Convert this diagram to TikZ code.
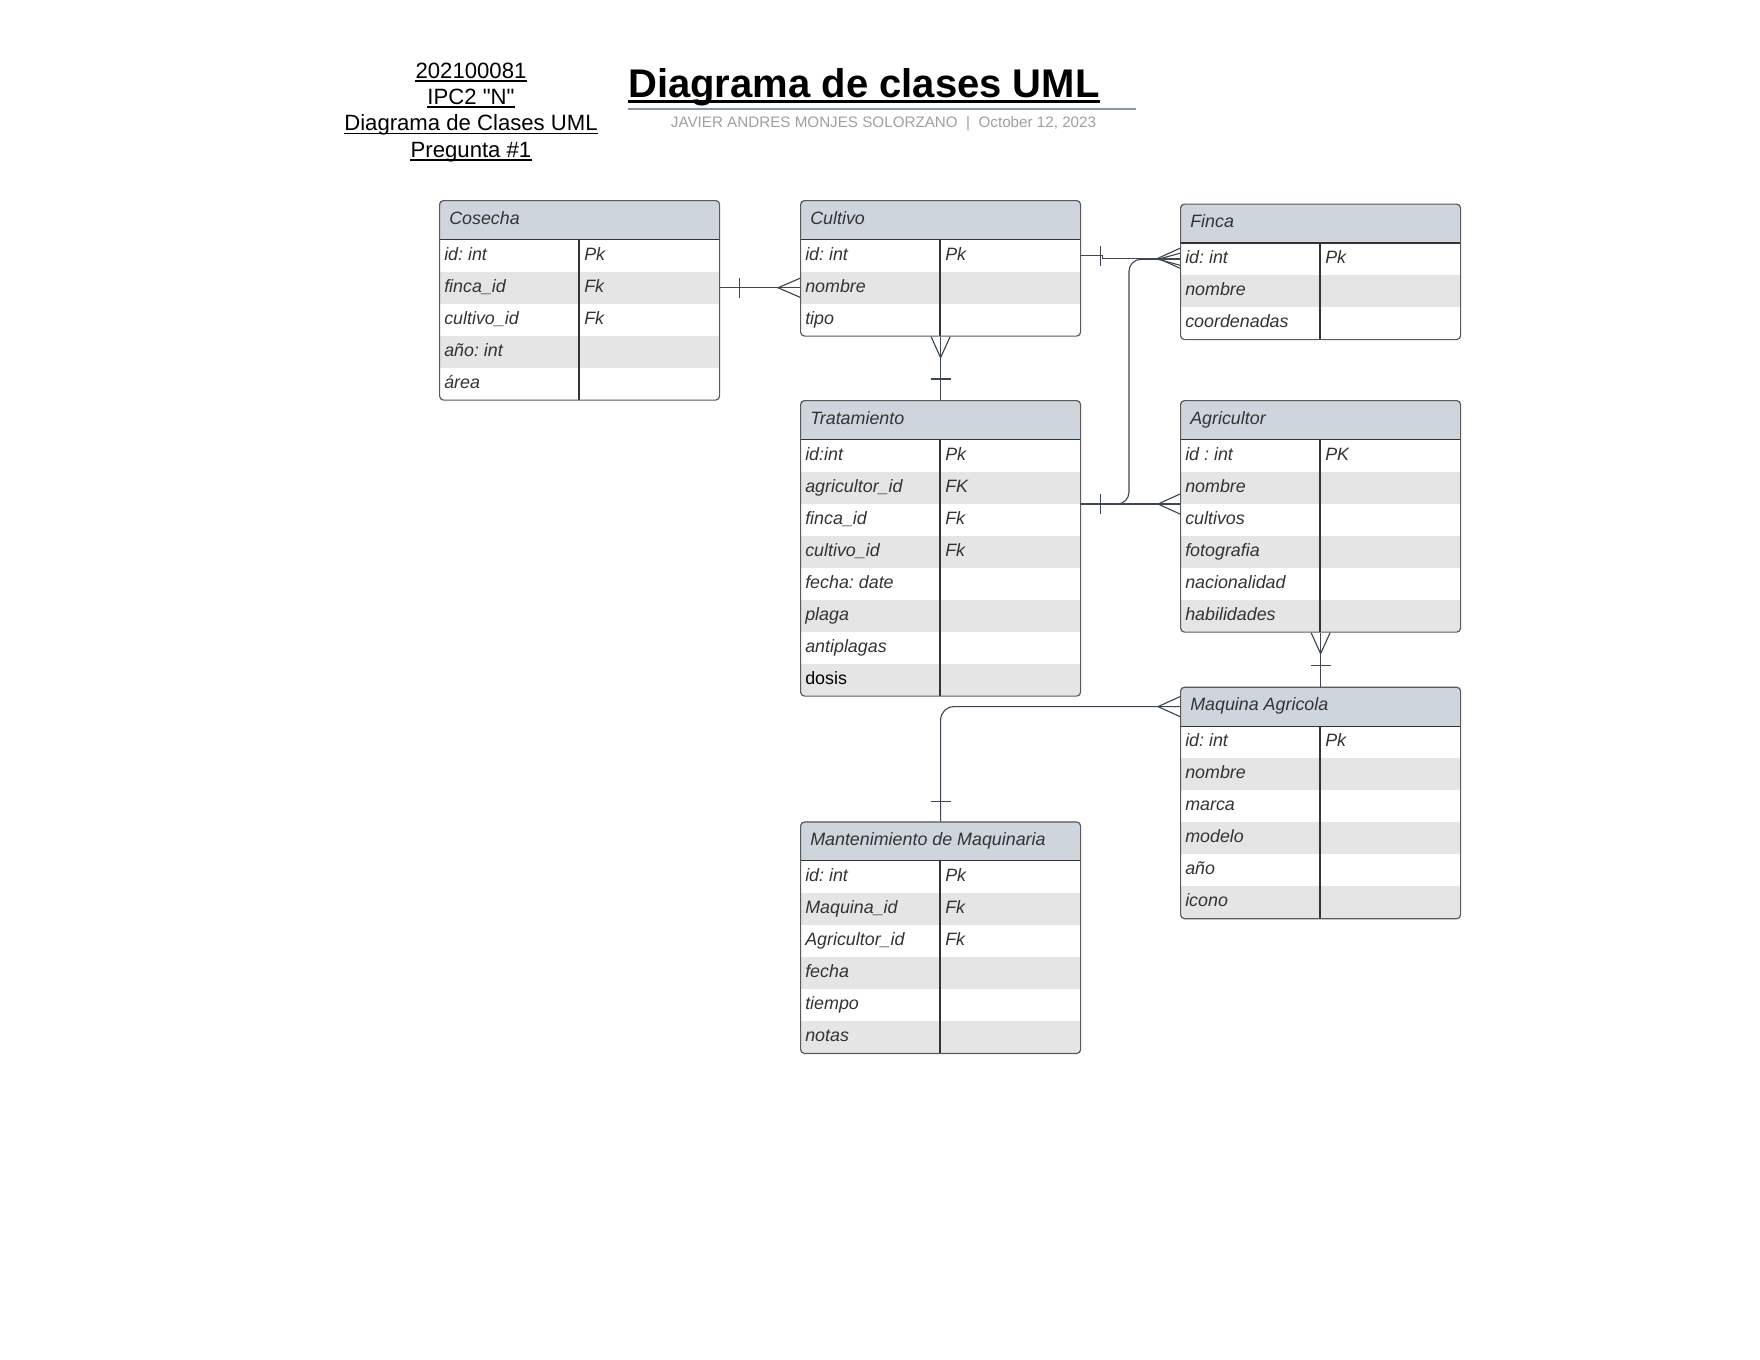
\documentclass[tikz,border=0pt]{standalone}
\usepackage{fontspec}
\setmainfont{Liberation Sans}
\usetikzlibrary{calc}
\definecolor{hdrfill}{HTML}{CFD5DD}
\definecolor{rowgray}{HTML}{E5E5E5}
\definecolor{boxline}{HTML}{5A5A5A}
\definecolor{conncol}{HTML}{3F4651}
\definecolor{txtcol}{HTML}{333333}
\definecolor{subgray}{HTML}{A0A0A0}
\definecolor{rulegray}{HTML}{8C96A8}
\newcommand\strq{\XeTeXglyph\XeTeXglyphindex "quotedbl"\relax}
\frenchspacing
\tikzset{
  boxborder/.style={draw=boxline, line width=0.9pt, rounded corners=3pt, inner sep=0pt, minimum width=210pt},
  innerline/.style={draw=txtcol, line width=0.8pt},
  cellbox/.style={inner sep=0pt, minimum width=210pt, minimum height=24pt},
  hdrbox/.style={inner sep=0pt, minimum width=210pt, minimum height=29.625pt},
  celltext/.style={inner sep=0pt, anchor=base west, text=txtcol, font=\fontsize{13.4pt}{15pt}\selectfont\itshape},
  hdrtext/.style={inner sep=0pt, anchor=base west, text=txtcol, font=\fontsize{13.4pt}{15pt}\selectfont\itshape},
  conn/.style={draw=conncol, line width=0.85pt},
  headline/.style={inner sep=0pt, anchor=base, font=\fontsize{16.6pt}{20pt}\selectfont},
}
% #1 name, #2 x, #3 y, #4 title, #5 rows, #6 list
\newcommand\umltable[6]{%
  \begin{scope}
    \path[clip, rounded corners=3pt] (#2,#3) rectangle ++(280,{39.5+32*#5});
    \fill[hdrfill] (#2,#3) rectangle ++(280,39.5);
    \foreach \lt/\rt [count=\i] in {#6} {
      \pgfmathsetmacro\yy{#3+39.5+32*(\i-1)}
      \ifodd\i\relax\else\fill[rowgray] (#2,\yy) rectangle ++(280,32);\fi
    }
  \end{scope}
  \node[hdrbox, anchor=north west] (#1-h) at (#2,#3) {};
  \node[hdrtext] (#1-t) at ({#2+10},{#3+19.75+4.5}) {#4};
  \foreach \lt/\rt [count=\i] in {#6} {
    \pgfmathsetmacro\yy{#3+39.5+32*(\i-1)}
    \node[cellbox, anchor=north west] (#1-r\i) at (#2,\yy) {};
    \node[celltext] (#1-a\i) at ({#2+5},{\yy+16+4.5}) {\lt};
    \node[celltext] (#1-b\i) at ({#2+145},{\yy+16+4.5}) {\rt};
  }
  \draw[innerline] (#2,{#3+39.5}) -- ++(280,0);
  \draw[innerline] ({#2+140},{#3+39.5}) -- ({#2+140},{#3+39.5+32*#5});
  \node[boxborder, anchor=north west, minimum height={29.625pt+24pt*#5}] (#1) at (#2,#3) {};
}
\begin{document}
\begin{tikzpicture}[x=0.75pt,y=-0.75pt]
\fill[white] (0,0) rectangle (1760,1360);
\useasboundingbox (0,0) rectangle (1760,1360);

% heading block
\node[headline] (h1) at (471,78) {202100081};
\node[headline] (h2) at (471,104) {IPC2 \strq N\strq};
\node[headline] (h3) at (471,130.5) {Diagrama de Clases UML};
\node[headline] (h4) at (471,157) {Pregunta \#1};
\foreach \n in {h1,h2,h3,h4}{
  \draw[line width=0.8pt] ($(\n.base west)+(0,3)$) -- ($(\n.base east)+(0,3)$);
}
\node[inner sep=0pt, anchor=base west, font=\fontsize{30pt}{36pt}\selectfont\bfseries] (title) at (628,97) {Diagrama de clases UML};
\draw[line width=1.7pt] ($(title.base west)+(0,4.5)$) -- ($(title.base east)+(0,4.5)$);
\draw[rulegray, line width=1pt] ($(title.base west)+(0,12)$) -- ($(title.base west)+(508,12)$);
\node[inner sep=0pt, anchor=base, text=subgray, font=\fontsize{11.4pt}{13pt}\selectfont] (sub) at (883.5,127.5) {JAVIER ANDRES MONJES SOLORZANO\ \ |\ \ October 12, 2023};

% tables
\umltable{cos}{439}{200}{Cosecha}{5}{id: int/Pk, finca\_id/Fk, cultivo\_id/Fk, año: int/{}, área/{}}
\umltable{cul}{800}{200}{Cultivo}{3}{id: int/Pk, nombre/{}, tipo/{}}
\umltable{fin}{1180}{203.5}{Finca}{3}{id: int/Pk, nombre/{}, coordenadas/{}}
\umltable{tra}{800}{400}{Tratamiento}{8}{id:int/Pk, agricultor\_id/FK, finca\_id/Fk, cultivo\_id/Fk, fecha: date/{}, plaga/{}, antiplagas/{}, {\upshape\color{black}dosis}/{}}
\umltable{agr}{1180}{400}{Agricultor}{6}{id : int/PK, nombre/{}, cultivos/{}, fotografia/{}, nacionalidad/{}, habilidades/{}}
\umltable{maq}{1180}{686.6}{Maquina Agricola}{6}{id: int/Pk, nombre/{}, marca/{}, modelo/{}, año/{}, icono/{}}
\umltable{man}{800}{821.4}{Mantenimiento de Maquinaria}{6}{id: int/Pk, Maquina\_id/Fk, Agricultor\_id/Fk, fecha/{}, tiempo/{}, notas/{}}

% Cosecha - Cultivo
\draw[conn] (cos-r2.east) -- (cul-r2.west);
\draw[conn] ($(cos-r2.east)+(20,-10)$) -- ($(cos-r2.east)+(20,10)$);
\draw[conn] ($(cul-r2.west)+(0,-9.5)$) -- ($(cul-r2.west)+(-22,0)$) -- ($(cul-r2.west)+(0,9.5)$);

% Cultivo - Finca
\coordinate (cfjog) at ($(cul-r1.east)+(22,0)$);
\draw[conn] (cul-r1.east) -- (cfjog) |- ($(fin-r1.west)+(0,-1)$);
\draw[conn] ($(cul-r1.east)+(20,-10)$) -- ($(cul-r1.east)+(20,10)$);
\draw[conn] ($(fin-r1.west)+(0,-11)$) -- ($(fin-r1.west)+(-22,-1)$) -- ($(fin-r1.west)+(0,9)$);

% Tratamiento - Finca
\draw[conn, rounded corners=9] (tra-r2.south east) -| ($(fin-r1.west)+(-51,0)$) -- (fin-r1.west);
\draw[conn] ($(fin-r1.west)+(0,-6)$) -- ($(fin-r1.west)+(-22,0)$) -- ($(fin-r1.west)+(0,6)$);

% Tratamiento - Agricultor
\draw[conn] (tra-r2.south east) -- (agr-r2.south west);
\draw[conn] ($(tra-r2.south east)+(20,-10)$) -- ($(tra-r2.south east)+(20,10)$);
\draw[conn] ($(agr-r2.south west)+(0,-10)$) -- ($(agr-r2.south west)+(-22,0)$) -- ($(agr-r2.south west)+(0,10)$);

% Cultivo - Tratamiento
\draw[conn] (cul.south) -- (tra.north);
\draw[conn] ($(cul.south)+(-9.5,0)$) -- ($(cul.south)+(0,21)$) -- ($(cul.south)+(9.5,0)$);
\draw[conn] ($(tra.north)+(-10,-21)$) -- ($(tra.north)+(10,-21)$);

% Agricultor - Maquina
\draw[conn] (agr.south) -- (maq.north);
\draw[conn] ($(agr.south)+(-9.5,0)$) -- ($(agr.south)+(0,21)$) -- ($(agr.south)+(9.5,0)$);
\draw[conn] ($(maq.north)+(-10,-21)$) -- ($(maq.north)+(10,-21)$);

% Maquina - Mantenimiento
\draw[conn, rounded corners=10] (maq-h.west) -| (man.north);
\draw[conn] ($(maq-h.west)+(0,-10)$) -- ($(maq-h.west)+(-22,0)$) -- ($(maq-h.west)+(0,10)$);
\draw[conn] ($(man.north)+(-10,-20)$) -- ($(man.north)+(10,-20)$);
\end{tikzpicture}
\end{document}
